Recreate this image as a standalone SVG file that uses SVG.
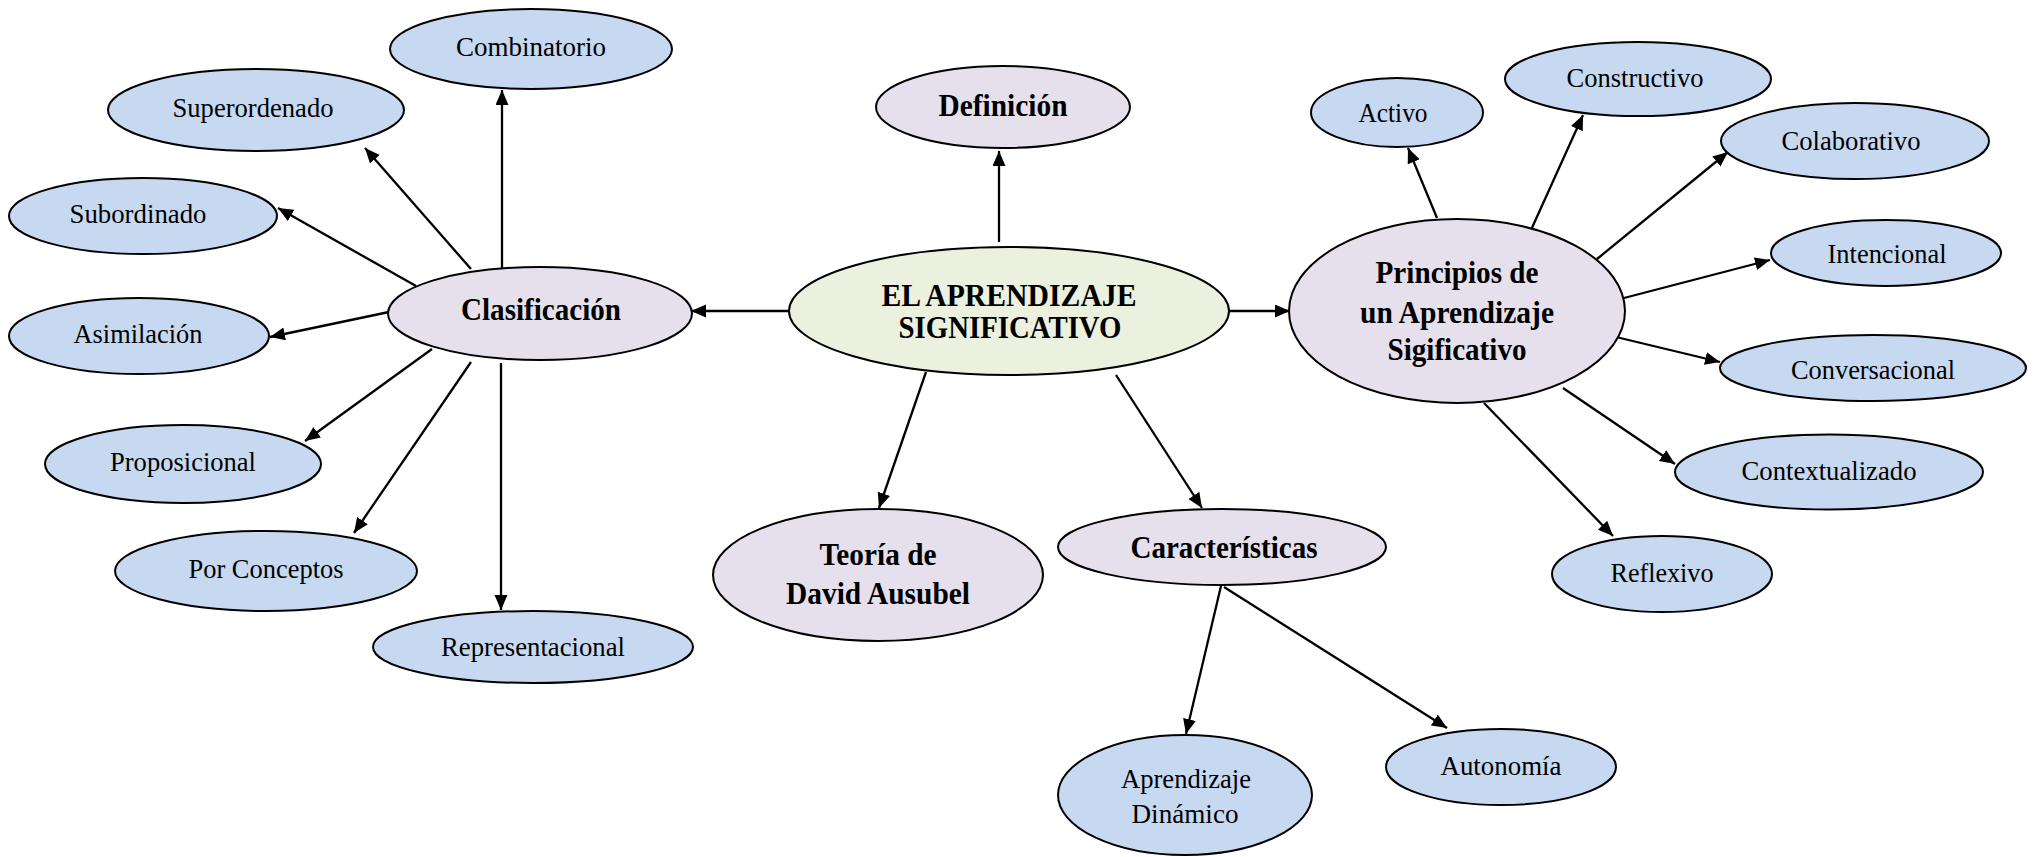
<svg xmlns="http://www.w3.org/2000/svg" width="2040" height="857" viewBox="0 0 2040 857">
<style>
.b{fill:#C6D9F1;stroke:#000;stroke-width:2}
.p{fill:#E5E0EC;stroke:#000;stroke-width:2}
.m{fill:#EBF1DE;stroke:#000;stroke-width:2}
text{font-family:"Liberation Serif","Times New Roman",serif;text-anchor:middle;fill:#000}
.r{font-size:28px}
.bd{font-size:31px;font-weight:bold}
.mt{font-size:31px;font-weight:bold}
#edges line{stroke:#000;stroke-width:2.3;marker-end:url(#ah)}
</style>
<defs>
<marker id="ah" markerUnits="userSpaceOnUse" markerWidth="16" markerHeight="14" refX="15" refY="6.5" orient="auto">
<path d="M0,0 L15,6.5 L0,13 Z" fill="#000"/>
</marker>
</defs>
<rect width="2040" height="857" fill="#fff"/>
<g id="edges">
<line x1="790" y1="311" x2="691" y2="311"/>
<line x1="1228" y1="311" x2="1290" y2="311"/>
<line x1="999" y1="242" x2="999" y2="151"/>
<line x1="926" y1="372" x2="879" y2="508"/>
<line x1="1116" y1="375" x2="1202" y2="508"/>
<line x1="502" y1="268" x2="502" y2="90"/>
<line x1="471" y1="269" x2="365" y2="148"/>
<line x1="416" y1="286" x2="278" y2="208"/>
<line x1="389" y1="312" x2="270" y2="337"/>
<line x1="432" y1="349" x2="305" y2="441"/>
<line x1="471" y1="362" x2="354" y2="533"/>
<line x1="501" y1="363" x2="501" y2="610"/>
<line x1="1221" y1="586" x2="1186" y2="734"/>
<line x1="1224" y1="587" x2="1447" y2="728"/>
<line x1="1437" y1="218" x2="1408" y2="148"/>
<line x1="1531" y1="230" x2="1583" y2="115"/>
<line x1="1597" y1="259" x2="1728" y2="152"/>
<line x1="1624" y1="298" x2="1770" y2="260"/>
<line x1="1616" y1="337" x2="1720" y2="362"/>
<line x1="1563" y1="388" x2="1675" y2="464"/>
<line x1="1484" y1="403" x2="1613" y2="536"/>
</g>
<g id="main"><ellipse class="m" cx="1009" cy="311" rx="220" ry="64"/>
<text class="mt" x="1009" y="306" textLength="255" lengthAdjust="spacingAndGlyphs">EL APRENDIZAJE</text>
<text class="mt" x="1010" y="338" textLength="223" lengthAdjust="spacingAndGlyphs">SIGNIFICATIVO</text></g>
<g id="definicion"><ellipse class="p" cx="1003" cy="107" rx="127" ry="41"/>
<text class="bd" x="1003" y="116" textLength="129" lengthAdjust="spacingAndGlyphs">Definición</text></g>
<g id="clasificacion"><ellipse class="p" cx="540" cy="313.5" rx="152" ry="46.5"/>
<text class="bd" x="541" y="320" textLength="160" lengthAdjust="spacingAndGlyphs">Clasificación</text></g>
<g id="teoria"><ellipse class="p" cx="878" cy="575" rx="165" ry="66"/>
<text class="bd" x="878" y="565" textLength="117" lengthAdjust="spacingAndGlyphs">Teoría de</text>
<text class="bd" x="878" y="604" textLength="184" lengthAdjust="spacingAndGlyphs">David Ausubel</text></g>
<g id="caracteristicas"><ellipse class="p" cx="1222" cy="547" rx="164" ry="38"/>
<text class="bd" x="1224" y="558" textLength="187" lengthAdjust="spacingAndGlyphs">Características</text></g>
<g id="principios"><ellipse class="p" cx="1457" cy="311" rx="168" ry="92"/>
<text class="bd" x="1457" y="283" textLength="163" lengthAdjust="spacingAndGlyphs">Principios de</text>
<text class="bd" x="1457" y="323" textLength="194" lengthAdjust="spacingAndGlyphs">un Aprendizaje</text>
<text class="bd" x="1457" y="360" textLength="139" lengthAdjust="spacingAndGlyphs">Sigificativo</text></g>
<g id="combinatorio"><ellipse class="b" cx="531" cy="49" rx="141" ry="40"/>
<text class="r" x="531" y="56" textLength="150" lengthAdjust="spacingAndGlyphs">Combinatorio</text></g>
<g id="superordenado"><ellipse class="b" cx="256" cy="110" rx="148" ry="41"/>
<text class="r" x="253" y="117" textLength="161" lengthAdjust="spacingAndGlyphs">Superordenado</text></g>
<g id="subordinado"><ellipse class="b" cx="143" cy="216" rx="134" ry="38"/>
<text class="r" x="138" y="223" textLength="137" lengthAdjust="spacingAndGlyphs">Subordinado</text></g>
<g id="asimilacion"><ellipse class="b" cx="139" cy="336" rx="130" ry="38"/>
<text class="r" x="138" y="343" textLength="129" lengthAdjust="spacingAndGlyphs">Asimilación</text></g>
<g id="proposicional"><ellipse class="b" cx="183" cy="464" rx="138" ry="39"/>
<text class="r" x="183" y="471" textLength="146" lengthAdjust="spacingAndGlyphs">Proposicional</text></g>
<g id="porconceptos"><ellipse class="b" cx="266" cy="571" rx="151" ry="40"/>
<text class="r" x="266" y="578" textLength="155" lengthAdjust="spacingAndGlyphs">Por Conceptos</text></g>
<g id="representacional"><ellipse class="b" cx="533" cy="647" rx="160" ry="36"/>
<text class="r" x="533" y="656" textLength="184" lengthAdjust="spacingAndGlyphs">Representacional</text></g>
<g id="aprendizajedinamico"><ellipse class="b" cx="1185" cy="795" rx="127" ry="60"/>
<text class="r" x="1186" y="788" textLength="130" lengthAdjust="spacingAndGlyphs">Aprendizaje</text>
<text class="r" x="1185" y="823" textLength="107" lengthAdjust="spacingAndGlyphs">Dinámico</text></g>
<g id="autonomia"><ellipse class="b" cx="1501" cy="767" rx="115" ry="38"/>
<text class="r" x="1501" y="775" textLength="121" lengthAdjust="spacingAndGlyphs">Autonomía</text></g>
<g id="activo"><ellipse class="b" cx="1397" cy="112.5" rx="86" ry="34.5"/>
<text class="r" x="1393" y="122" textLength="69" lengthAdjust="spacingAndGlyphs">Activo</text></g>
<g id="constructivo"><ellipse class="b" cx="1638" cy="79" rx="133" ry="37"/>
<text class="r" x="1635" y="87" textLength="137" lengthAdjust="spacingAndGlyphs">Constructivo</text></g>
<g id="colaborativo"><ellipse class="b" cx="1855" cy="141" rx="134" ry="38"/>
<text class="r" x="1851" y="150" textLength="139" lengthAdjust="spacingAndGlyphs">Colaborativo</text></g>
<g id="intencional"><ellipse class="b" cx="1886" cy="253" rx="115" ry="33"/>
<text class="r" x="1887" y="263" textLength="119" lengthAdjust="spacingAndGlyphs">Intencional</text></g>
<g id="conversacional"><ellipse class="b" cx="1873" cy="368" rx="153" ry="33"/>
<text class="r" x="1873" y="379" textLength="164" lengthAdjust="spacingAndGlyphs">Conversacional</text></g>
<g id="contextualizado"><ellipse class="b" cx="1829" cy="472" rx="154" ry="37.5"/>
<text class="r" x="1829" y="480" textLength="175" lengthAdjust="spacingAndGlyphs">Contextualizado</text></g>
<g id="reflexivo"><ellipse class="b" cx="1662" cy="574" rx="110" ry="38"/>
<text class="r" x="1662" y="582" textLength="103" lengthAdjust="spacingAndGlyphs">Reflexivo</text></g>
</svg>
